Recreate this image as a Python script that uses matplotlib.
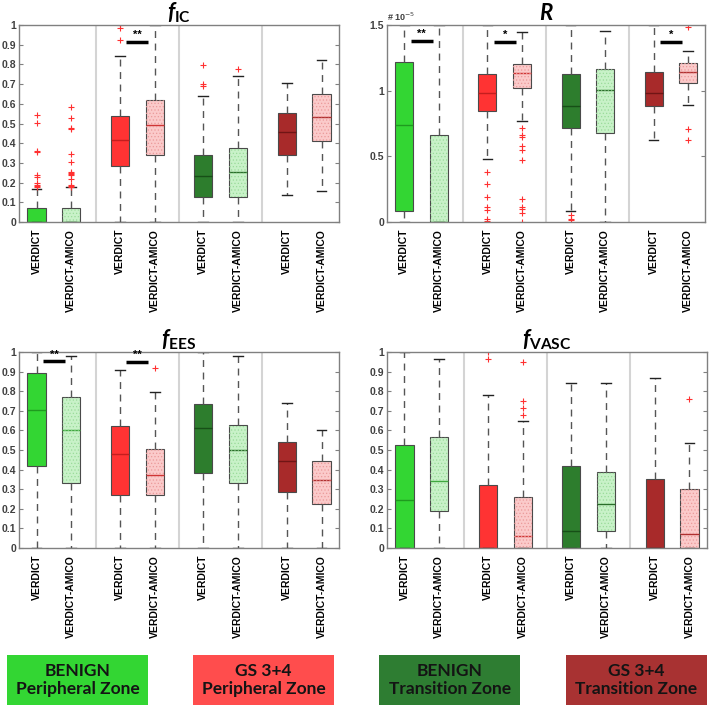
import matplotlib
matplotlib.use('Agg')
import matplotlib.pyplot as plt
from matplotlib.patches import PathPatch, Rectangle
import numpy as np

plt.rcParams['font.family'] = ['Liberation Sans', 'DejaVu Sans']
plt.rcParams['mathtext.fontset'] = 'custom'
plt.rcParams['mathtext.rm'] = 'Lato:bold'
plt.rcParams['mathtext.it'] = 'Lato:italic:bold'
plt.rcParams['hatch.linewidth'] = 0.5

methods = ['VERDICT', 'VERDICT-AMICO']
groups = ['BENIGN\nPeripheral Zone', 'GS 3+4\nPeripheral Zone',
          'BENIGN\nTransition Zone', 'GS 3+4\nTransition Zone']
verdict_colors = ['#33d633', '#ff3333', '#2d7d2d', '#a82a2a']
amico_colors = ['#c8f2c8', '#fbcaca', '#c8f2c8', '#fbcaca']
speckle_colors = ['#9adb9a', '#eb9a9a', '#9adb9a', '#eb9a9a']
verdict_median = ['#1f9a1f', '#c41e1e', '#174f17', '#701515']
amico_median = ['#3fa83f', '#d03535', '#2a6e2a', '#b03030']
legend_colors = ['#33d633', '#ff4d4d', '#2e7d32', '#a83232']

# ---- f_IC ----
fic_lo = [0, 0, 0, 0, 0, 0, 0.136, 0.156]
fic_q1 = [0, 0, 0.286, 0.338, 0.128, 0.127, 0.342, 0.410]
fic_med = [0, 0, 0.417, 0.493, 0.233, 0.255, 0.459, 0.532]
fic_q3 = [0.071, 0.072, 0.539, 0.621, 0.338, 0.378, 0.551, 0.651]
fic_hi = [0.170, 0.178, 0.844, 1.0, 0.638, 0.741, 0.706, 0.821]
fic_fliers = [
    [0.545, 0.505, 0.36, 0.355, 0.24, 0.23, 0.20, 0.19, 0.185, 0.18],
    [0.585, 0.53, 0.475, 0.47, 0.345, 0.305, 0.255, 0.25, 0.245, 0.24,
     0.22, 0.19, 0.185, 0.18],
    [0.923, 0.986, 0.998],
    [],
    [0.795, 0.70, 0.69],
    [0.777],
    [],
    [],
]
fic_sig = [(1, '**', 0.913)]

# ---- R (x 1e-5) ----
r_lo = [0, 0, 0.481, 0.772, 0.085, 0, 0.623, 0.893]
r_q1 = [0.082, 0, 0.844, 1.021, 0.715, 0.674, 0.885, 1.057]
r_med = [0.738, 0, 0.983, 1.135, 0.880, 1.008, 0.983, 1.145]
r_q3 = [1.217, 0.659, 1.127, 1.204, 1.129, 1.168, 1.140, 1.209]
r_hi = [1.5, 1.5, 1.5, 1.446, 1.5, 1.456, 1.5, 1.299]
r_fliers = [
    [],
    [],
    [0.381, 0.293, 0.19, 0.113, 0.095, 0.026, 0.005],
    [0.718, 0.661, 0.646, 0.579, 0.545, 0.471, 0.172, 0.116, 0.10,
     0.069, 0.0],
    [0.05, 0.026, 0.013],
    [],
    [],
    [1.484, 0.705, 0.628],
]
r_sig = [(0, '**', 1.381), (1, '*', 1.374), (3, '*', 1.374)]

# ---- f_EES ----
fees_lo = [0, 0, 0, 0, 0, 0, 0, 0]
fees_q1 = [0.418, 0.332, 0.272, 0.272, 0.383, 0.333, 0.284, 0.226]
fees_med = [0.706, 0.604, 0.481, 0.374, 0.614, 0.502, 0.442, 0.349]
fees_q3 = [0.893, 0.772, 0.621, 0.503, 0.733, 0.629, 0.543, 0.446]
fees_hi = [1.0, 0.981, 0.910, 0.798, 1.0, 0.981, 0.740, 0.600]
fees_fliers = [[], [], [], [0.92], [], [], [], []]
fees_sig = [(0, '**', 0.952), (1, '**', 0.949)]

# ---- f_VASC ----
fv_lo = [0, 0, 0, 0, 0, 0, 0, 0]
fv_q1 = [0, 0.189, 0, 0, 0, 0.085, 0, 0]
fv_med = [0.244, 0.340, 0, 0.060, 0.085, 0.224, 0, 0.070]
fv_q3 = [0.524, 0.565, 0.321, 0.259, 0.420, 0.389, 0.352, 0.299]
fv_hi = [1.0, 0.962, 0.780, 0.648, 0.843, 0.840, 0.865, 0.534]
fv_fliers = [[], [], [0.966, 1.0], [0.949, 0.751, 0.713, 0.677],
             [], [], [], [0.758]]
fv_sig = []

panels = [
    (r'$f_{\mathrm{IC}}$', fic_lo, fic_q1, fic_med, fic_q3, fic_hi, fic_fliers, fic_sig, 1.0),
    (r'$R$', r_lo, r_q1, r_med, r_q3, r_hi, r_fliers, r_sig, 1.5),
    (r'$f_{\mathrm{EES}}$', fees_lo, fees_q1, fees_med, fees_q3, fees_hi, fees_fliers, fees_sig, 1.0),
    (r'$f_{\mathrm{VASC}}$', fv_lo, fv_q1, fv_med, fv_q3, fv_hi, fv_fliers, fv_sig, 1.0),
]
axes_rects = [
    [0.027, 0.6864, 0.451, 0.2783],
    [0.546, 0.6864, 0.449, 0.2783],
    [0.027, 0.2260, 0.451, 0.2768],
    [0.546, 0.2260, 0.451, 0.2768],
]

# box positions: 1 apart inside a group, 1.4 between groups
positions = []
for g in range(4):
    positions += [1 + 2.4 * g, 2 + 2.4 * g]
sep_x = [(positions[2 * g + 1] + positions[2 * g + 2]) / 2 for g in range(3)]

fig = plt.figure(figsize=(7.09, 7.08), dpi=100)

for (title, lo, q1, med, q3, hi, fliers, sig, ymax), rect in zip(panels, axes_rects):
    ax = fig.add_axes(rect)
    stats = []
    for i in range(8):
        stats.append(dict(whislo=lo[i], q1=q1[i], med=med[i], q3=q3[i],
                          whishi=hi[i], fliers=np.array(fliers[i])))
    bp = ax.bxp(stats, positions=positions, widths=0.52, capwidths=0.28,
                patch_artist=True, showfliers=True,
                boxprops=dict(edgecolor='#4a4a4a', linewidth=0.8),
                whiskerprops=dict(color='#555555', linewidth=1.0,
                                  linestyle=(0, (5, 4))),
                capprops=dict(color='#222222', linewidth=1.0),
                medianprops=dict(linewidth=1.0),
                flierprops=dict(marker='+', markeredgecolor='#ff3030',
                                markersize=5, markeredgewidth=0.8))
    for i, box in enumerate(bp['boxes']):
        g = i // 2
        if i % 2 == 0:
            box.set_facecolor(verdict_colors[g])
            bp['medians'][i].set_color(verdict_median[g])
        else:
            box.set_facecolor(amico_colors[g])
            bp['medians'][i].set_color(amico_median[g])
            speck = PathPatch(box.get_path(), transform=box.get_transform(),
                              fill=False, hatch='.....',
                              edgecolor=speckle_colors[g], linewidth=0,
                              zorder=box.get_zorder() + 0.1)
            ax.add_patch(speck)
    for x in sep_x:
        ax.axvline(x, color='#d4d4d4', linewidth=1.5, zorder=0)

    for g, stars, yv in sig:
        xa = positions[2 * g] + 0.18
        xb = positions[2 * g + 1] - 0.18
        ax.plot([xa, xb], [yv, yv], color='black', linewidth=2.5,
                solid_capstyle='butt', zorder=5)
        ax.text((xa + xb) / 2, yv + 0.01 * ymax, stars, ha='center',
                va='bottom', fontsize=8, fontweight='bold')

    ax.set_xlim(0.5, 9.7)
    ax.set_ylim(0, ymax)
    if ymax == 1.0:
        ax.set_yticks(np.arange(0, 1.01, 0.1))
        ax.set_yticklabels(['0', '0.1', '0.2', '0.3', '0.4', '0.5', '0.6',
                            '0.7', '0.8', '0.9', '1'])
    else:
        ax.set_yticks([0, 0.5, 1, 1.5])
        ax.set_yticklabels(['0', '0.5', '1', '1.5'])
        ax.text(0.0, 1.01, '# 10$^{-5}$', transform=ax.transAxes,
                fontsize=6.5, fontweight='bold', color='#404040',
                ha='left', va='bottom',
                math_fontfamily='dejavusans')
    ax.set_xticks(positions)
    ax.set_xticklabels(methods * 4, rotation=90, fontsize=7.5,
                       fontweight='bold', color='black')
    ax.tick_params(axis='x', length=0, pad=5)
    ax.tick_params(axis='y', direction='in', length=3, right=True,
                   labelsize=7.5, labelcolor='#404040', color='#808080',
                   pad=2)
    for lab in ax.get_yticklabels():
        lab.set_fontweight('bold')
    for sp in ax.spines.values():
        sp.set_color('#808080')
        sp.set_linewidth(1.0)
    ax.set_title(title, fontsize=16, pad=1)

# white band at the bottom, with the group colour key
fig.patches.append(Rectangle((0, 0), 1, 0.097, transform=fig.transFigure,
                             facecolor='white', edgecolor='none', zorder=2))
key_x = [0.0099, 0.272, 0.5346, 0.798]
for x0, label, col in zip(key_x, groups, legend_colors):
    fig.patches.append(Rectangle((x0, 0.004), 0.199, 0.071,
                                 transform=fig.transFigure, facecolor=col,
                                 edgecolor='none', zorder=3))
    fig.text(x0 + 0.0995, 0.0395, label, ha='center', va='center',
             fontsize=12.5, family=['Lato', 'DejaVu Sans'], fontweight='bold',
             color='#141414', linespacing=1.2, zorder=4)

fig.savefig('out.png', dpi=100)
